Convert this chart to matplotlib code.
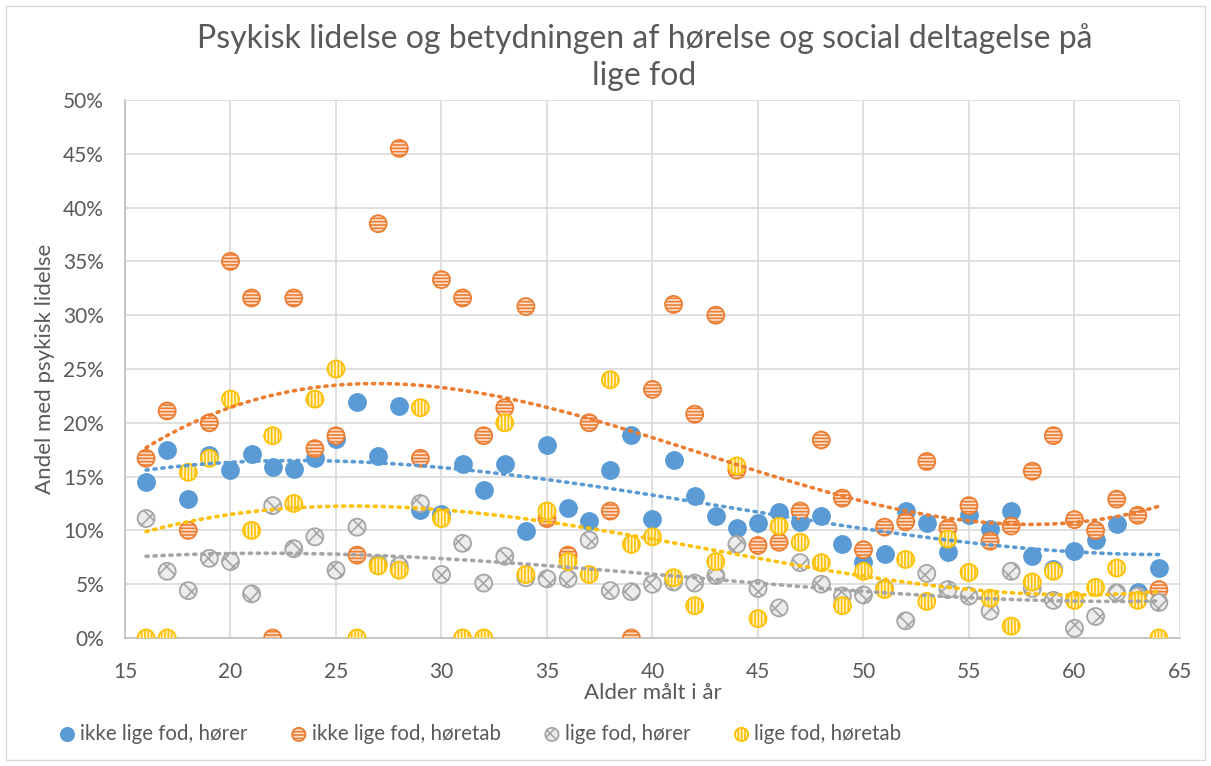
import matplotlib.pyplot as plt
import numpy as np
from matplotlib.patches import Rectangle

plt.rcParams["font.family"] = ["Lato", "DejaVu Sans"]
plt.rcParams["hatch.linewidth"] = 1.2

# %%
ages = list(range(16, 65))

ikke_hoerer = [14.5, 17.5, 12.9, 17.0, 15.6, 17.1, 15.9, 15.7, 16.7, 18.5,
               21.9, 16.9, 21.6, 11.9, 11.5, 16.2, 13.8, 16.2, 9.9, 17.9,
               12.1, 10.9, 15.6, 18.9, 11.1, 16.5, 13.2, 11.3, 10.2, 10.7,
               11.7, 10.8, 11.3, 8.7, 7.1, 7.8, 11.8, 10.7, 8.0, 11.4,
               10.1, 11.8, 7.6, 6.4, 8.1, 9.1, 10.6, 4.3, 6.5]
ikke_hoeretab = [16.7, 21.1, 10.0, 20.0, 35.0, 31.6, 0.0, 31.6, 17.6, 18.8,
                 7.7, 38.5, 45.5, 16.7, 33.3, 31.6, 18.8, 21.4, 30.8, 11.1,
                 7.7, 20.0, 11.8, 0.0, 23.1, 31.0, 20.8, 30.0, 15.6, 8.6,
                 8.9, 11.8, 18.4, 13.0, 8.2, 10.3, 10.8, 16.4, 10.2, 12.3,
                 9.0, 10.4, 15.5, 18.8, 11.0, 10.0, 12.9, 11.4, 4.5]
lige_hoerer = [11.1, 6.2, 4.4, 7.4, 7.1, 4.1, 12.3, 8.3, 9.4, 6.3,
               10.3, 6.9, 6.7, 12.5, 5.9, 8.8, 5.1, 7.6, 5.6, 5.5,
               5.5, 9.1, 4.4, 4.3, 5.0, 5.2, 5.1, 5.8, 8.7, 4.6,
               2.8, 7.0, 5.0, 3.9, 4.0, 4.6, 1.6, 6.0, 4.5, 3.9,
               2.5, 6.2, 4.6, 3.5, 0.9, 2.0, 4.2, 3.9, 3.3]
lige_hoeretab = [0.0, 0.0, 15.4, 16.7, 22.2, 10.0, 18.8, 12.5, 22.2, 25.0,
                 0.0, 6.7, 6.3, 21.4, 11.1, 0.0, 0.0, 20.0, 5.9, 11.8,
                 7.1, 5.9, 24.0, 8.7, 9.4, 5.6, 3.0, 7.1, 16.0, 1.8,
                 10.4, 8.9, 7.0, 3.0, 6.2, 4.5, 7.3, 3.4, 9.2, 6.1,
                 3.7, 1.1, 5.2, 6.2, 3.5, 4.7, 6.5, 3.5, 0.0]

labels = ["ikke lige fod, hører", "ikke lige fod, høretab",
          "lige fod, hører", "lige fod, høretab"]

# %%
series = [
    # values, face, edge, hatch, trend colour
    (ikke_hoerer, "#5b9bd5", "#5b9bd5", None, "#5b9bd5"),
    (ikke_hoeretab, "#fbe0cf", "#ed7d31", "-----", "#ed7d31"),
    (lige_hoerer, "#ececec", "#a5a5a5", "xx", "#a5a5a5"),
    (lige_hoeretab, "#fff2cc", "#ffc000", "|||||", "#ffc000"),
]

fig = plt.figure(figsize=(12.11, 7.66), dpi=100)
ax = fig.add_axes([0.1032, 0.1671, 0.8712, 0.7024])
text_col = "#595959"

x = np.array(ages)
handles = []
for vals, face, edge, hatch, tcol in series:
    y = np.array(vals)
    h = ax.scatter(x, y, s=150, facecolor=face, edgecolor=edge,
                   linewidth=1.3, hatch=hatch, zorder=3)
    handles.append(h)

# polynomial trendlines (order 3), like Excel's
for vals, face, edge, hatch, tcol in series:
    coef = np.polyfit(x, np.array(vals), 3)
    xs = np.linspace(16, 64, 300)
    ax.plot(xs, np.polyval(coef, xs), color=tcol, lw=2.6,
            linestyle=(0, (0.6, 1.6)), dash_capstyle="round", zorder=4)

ax.set_xlim(15, 65)
ax.set_ylim(0, 50)
ax.set_xticks(range(15, 66, 5))
ax.set_yticks(range(0, 51, 5))
ax.set_yticklabels([f"{v}%" for v in range(0, 51, 5)])
ax.grid(True, color="#d9d9d9", lw=1.2, zorder=0)
ax.set_axisbelow(True)
for s in ["top", "right"]:
    ax.spines[s].set_visible(False)
for s in ["left", "bottom"]:
    ax.spines[s].set_color("#bfbfbf")
    ax.spines[s].set_linewidth(1.2)
ax.tick_params(length=0, labelsize=15, colors=text_col)
ax.tick_params(axis="y", pad=15)
ax.tick_params(axis="x", pad=17)

ax.set_xlabel("Alder målt i år", fontsize=16, color=text_col, labelpad=1)
ax.set_ylabel("Andel med psykisk lidelse", fontsize=16, color=text_col, labelpad=6)
fig.text(0.532, 0.9256, "Psykisk lidelse og betydningen af hørelse og social deltagelse på\nlige fod",
         ha="center", va="center", fontsize=23, color=text_col, linespacing=1.32)

fig.legend(handles, labels, loc="center", bbox_to_anchor=(0.397, 0.042), ncol=4,
           frameon=False, fontsize=14.8, labelcolor=text_col, handletextpad=0.27,
           columnspacing=2.15, markerscale=0.78, handlelength=0.7)

fig.patches.append(Rectangle((6 / 1211, 6 / 766), 1199 / 1211, 754 / 766,
                             transform=fig.transFigure, fill=False,
                             edgecolor="#d9d9d9", lw=1))

fig.savefig("out.png", dpi=100)
